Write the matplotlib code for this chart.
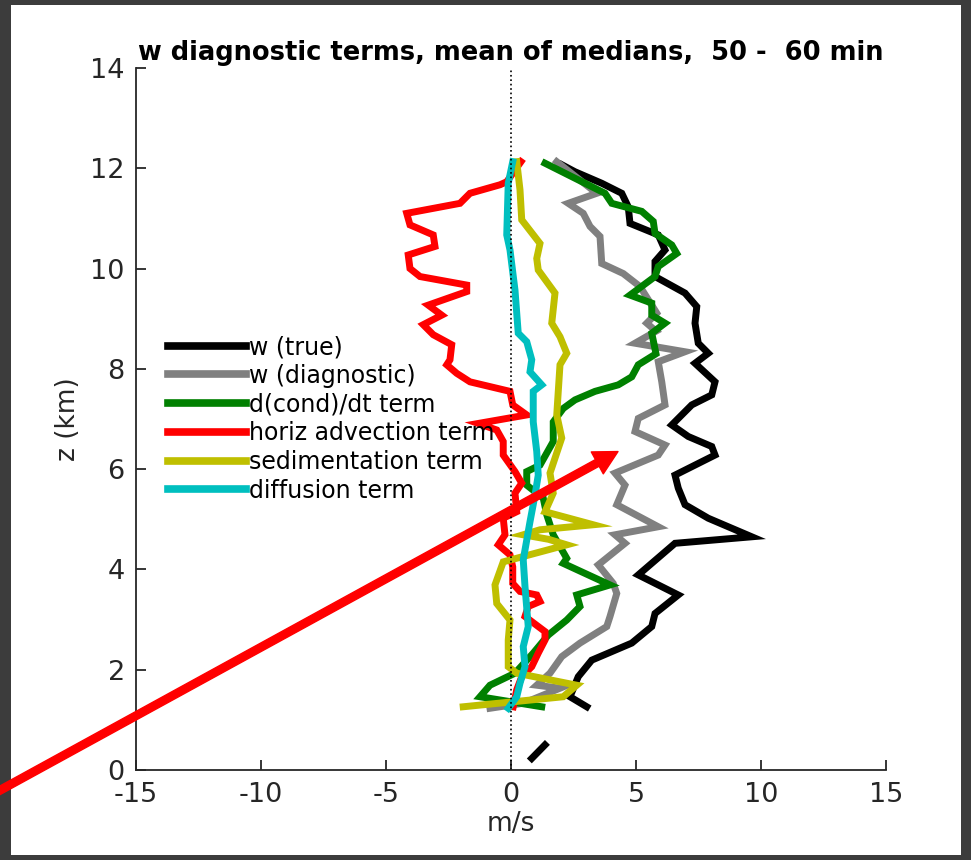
import numpy as np
import matplotlib
matplotlib.use('Agg')
import matplotlib.pyplot as plt
from matplotlib.patches import Rectangle

nan = np.nan

# heights (km) and values (m/s), read top to bottom
z_true = [12.07, 11.93, 11.7, 11.5, 11.23, 10.9, 10.67, 10.37, 10.14, 9.84, 9.51, 9.24, 8.91,
          8.51, 8.31, 8.11, 7.74, 7.48, 7.28, 6.88, 6.65, 6.45, 6.28, 5.88, 5.62, 5.29, 5.02,
          4.65, 4.52, 3.89, 3.49, 3.12, 2.86, 2.53, 2.33, 2.19, 1.86, 1.46, 1.26, nan, 0.5, 0.23]
w_true = [2.03, 2.56, 3.63, 4.43, 4.69, 4.76, 5.89, 6.16, 5.76, 5.76, 6.96, 7.43, 7.36,
          7.49, 7.89, 7.36, 8.16, 8.03, 7.23, 6.43, 7.09, 8.03, 8.16, 6.56, 6.69, 6.96, 7.89,
          9.63, 6.56, 5.09, 6.69, 5.76, 5.63, 4.83, 3.89, 3.23, 2.69, 2.36, 3.03, nan, 1.36, 0.83]

z_diag = [12.13, 11.5, 11.3, 11.1, 10.84, 10.64, 10.1, 9.9, 9.64, 9.11, 8.91, 8.75, 8.51, 8.34,
          8.14, 7.74, 7.28, 7.01, 6.75, 6.48, 6.28, 5.92, 5.68, 5.29, 4.85, 4.69, 4.52, 4.09,
          3.72, 3.52, 3.06, 2.86, 2.53, 2.26, 1.93, 1.69, 1.63, 1.33, 1.23]
w_diag = [1.83, 3.43, 2.29, 2.89, 3.16, 3.56, 3.63, 4.49, 5.16, 5.83, 5.43, 5.8, 4.96, 6.96,
          5.89, 6.03, 6.16, 5.09, 4.96, 6.16, 5.89, 4.16, 4.56, 4.23, 5.89, 4.16, 4.56, 3.49,
          4.09, 4.23, 3.96, 3.83, 2.76, 2.03, 1.56, 1.03, 1.96, 0.49, -0.84]

z_cond = [12.1, 11.8, 11.5, 11.3, 11.14, 10.94, 10.7, 10.47, 10.3, 10.04, 9.84, 9.47, 9.31,
          9.07, 8.91, 8.71, 8.3, 8.08, 7.84, 7.68, 7.55, 7.38, 7.21, 6.94, 6.55, 6.08, 5.95,
          5.68, 5.42, 5.09, 4.69, 4.22, 4.12, 3.69, 3.49, 3.26, 2.99, 2.69, 2.33, 1.93, 1.69,
          1.46, 1.26]
w_cond = [1.36, 2.56, 3.76, 4.03, 5.23, 5.69, 5.76, 6.43, 6.63, 5.89, 5.76, 4.76, 5.63,
          5.63, 6.16, 5.63, 5.8, 5.09, 4.83, 4.29, 3.36, 2.56, 2.09, 1.69, 1.69, 1.16, 0.63,
          0.63, 1.29, 1.43, 1.69, 2.23, 2.09, 3.96, 2.63, 2.76, 2.23, 1.49, 0.89, 0.16, -0.84,
          -1.24, 1.23]

z_adv = [12.13, 11.73, 11.67, 11.5, 11.3, 11.1, 10.87, 10.67, 10.44, 10.27, 10.0, 9.84, 9.67,
         9.54, 9.27, 9.07, 8.88, 8.68, 8.48, 8.18, 8.08, 7.91, 7.74, 7.55, 7.28, 7.08, 6.91,
         6.78, 6.55, 6.28, 5.95, 5.72, 5.52, 5.15, 5.02, 4.69, 4.49, 4.29, 4.05, 3.72, 3.56,
         3.49, 3.36, 3.26, 3.06, 2.76, 2.59, 2.33, 2.06, 1.86, 1.6, 1.26]
w_adv = [0.4, -0.17, -0.44, -1.64, -2.04, -4.17, -4.04, -3.11, -3.04, -4.11, -4.04, -3.64, -1.77,
         -1.77, -3.31, -2.77, -3.51, -3.11, -2.37, -2.44, -2.57, -2.17, -1.64, -0.04, 0.07, 0.63, -1.31,
         -0.57, -0.31, -0.31, 0.16, 0.43, 0.16, 0.23, -0.31, -0.24, -0.51, -0.04, 0.07, 0.07, 0.36,
         1.03, 1.16, 0.69, 0.56, 1.36, 1.36, 1.09, 0.83, 0.43, 0.23, 0.09]

z_sed = [12.13, 11.57, 10.97, 10.5, 10.2, 9.97, 9.51, 8.91, 8.64, 8.31, 8.08, 7.08, 6.62, 5.92,
         5.52, 5.15, 4.89, 4.79, 4.69, 4.6, 4.49, 4.15, 3.69, 3.32, 2.99, 2.59, 2.06, 1.93, 1.69,
         1.46, 1.26]
w_sed = [0.23, 0.36, 0.43, 1.16, 1.03, 1.09, 1.76, 1.63, 1.96, 2.23, 1.96, 1.83, 2.03, 1.56,
         1.69, 1.36, 3.29, 1.16, 0.49, 1.5, 2.23, -0.31, -0.64, -0.57, -0.04, -0.11, -0.11, 0.23,
         2.63, 2.09, -1.91]

z_diff = [12.13, 11.7, 10.67, 10.37, 9.57, 8.71, 8.54, 8.18, 7.94, 7.68, 7.55, 6.94, 6.35, 5.88,
          5.48, 4.95, 4.19, 3.66, 2.86, 2.46, 2.06, 1.73, 1.46, 1.23]
w_diff = [0.07, -0.11, -0.17, -0.04, 0.16, 0.29, 0.63, 0.83, 0.76, 1.23, 0.89, 0.89, 1.03, 1.09,
          0.96, 0.76, 0.49, 0.56, 0.69, 0.49, 0.56, 0.36, 0.23, -0.11]

labels = ['w (true)', 'w (diagnostic)', 'd(cond)/dt term', 'horiz advection term',
          'sedimentation term', 'diffusion term']
colors = ['k', (0.5, 0.5, 0.5), (0, 0.5, 0), (1, 0, 0), (0.75, 0.75, 0), (0, 0.75, 0.75)]

plt.rcParams['axes.unicode_minus'] = False

fig = plt.figure(figsize=(9.71, 8.6), dpi=100, facecolor='#3c3c3c')
# white slide panel, behind the axes
fig.patches.append(Rectangle((0.0113, 0.0058), 0.978, 0.988, transform=fig.transFigure,
                             facecolor='white', edgecolor='none', zorder=-5))
ax = fig.add_axes([0.140, 0.1047, 0.7725, 0.8163])
ax.set_facecolor('none')

series = [(w_true, z_true), (w_diag, z_diag), (w_cond, z_cond),
          (w_adv, z_adv), (w_sed, z_sed), (w_diff, z_diff)]
for (w, z), lab, c in zip(series, labels, colors):
    ax.plot(w, z, color=c, lw=5, label=lab, solid_joinstyle='miter')

ax.plot([0, 0], [0, 14], color='k', lw=1.2, ls=':')

ax.set_xlim(-15, 15)
ax.set_ylim(0, 14)
ax.set_xticks([-15, -10, -5, 0, 5, 10, 15])
ax.set_yticks([0, 2, 4, 6, 8, 10, 12, 14])
for s in ['top', 'right']:
    ax.spines[s].set_visible(False)
for s in ['left', 'bottom']:
    ax.spines[s].set_color('#262626')
    ax.spines[s].set_linewidth(1.3)
ax.tick_params(direction='in', length=7, width=1.3, color='#262626', labelsize=19.5,
               labelcolor='#262626')
ax.tick_params(axis='x', pad=9)
ax.tick_params(axis='y', pad=8)
ax.set_xlabel('m/s', fontsize=19, color='#262626', labelpad=2)
ax.set_ylabel('z (km)', fontsize=19, color='#262626', labelpad=7)
ax.set_title('w diagnostic terms, mean of medians,  50 -  60 min', fontsize=18.5,
             fontweight='bold', pad=6)

leg = ax.legend(loc='upper left', bbox_to_anchor=(168 / 971, 1 - 335 / 860),
                bbox_transform=fig.transFigure, frameon=False, fontsize=17,
                handlelength=3.3, handletextpad=0.15, labelspacing=0.2,
                borderpad=0, borderaxespad=0)
for h in leg.get_lines():
    h.set_linewidth(5.5)

# red arrow drawn over the slide
ax.annotate('', xy=(4.28, 6.35), xytext=(-20.6, -0.45), annotation_clip=False,
            arrowprops=dict(facecolor='red', edgecolor='red', width=5.5, headwidth=18,
                            headlength=17, shrink=0))

fig.savefig('out.png', dpi=100, facecolor=fig.get_facecolor())
